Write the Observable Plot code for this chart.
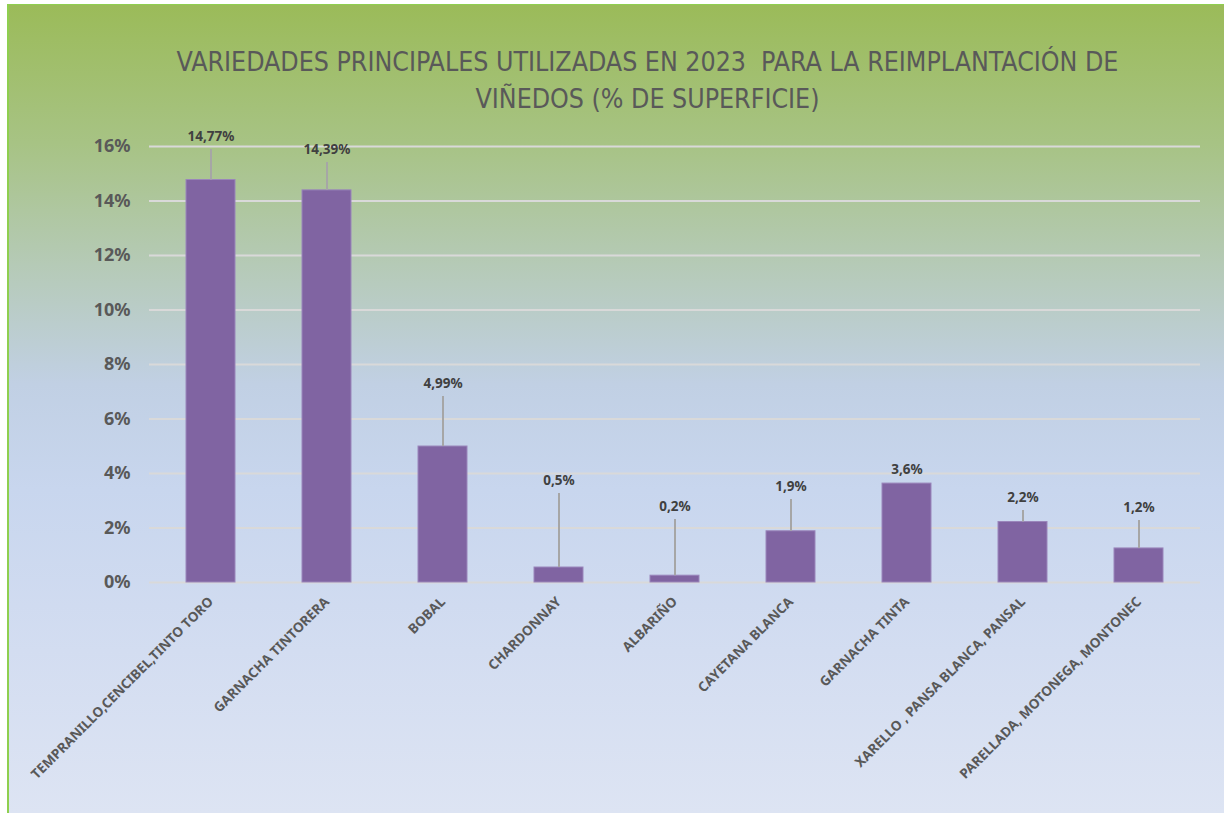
<!DOCTYPE html>
<html>
<head>
<meta charset="utf-8">
<script src="https://cdn.jsdelivr.net/npm/d3@7"></script>
<script src="https://cdn.jsdelivr.net/npm/@observablehq/plot@0.6"></script>
<style>
  html, body { margin: 0; padding: 0; background: #ffffff; }
  #page { width: 1224px; height: 813px; padding: 4px 0 0 7px; box-sizing: border-box; overflow: hidden; }
  #box {
    width: 1217px; height: 809px; box-sizing: border-box;
    border-left: 2px solid #8fcf4f; border-top: 1px solid #8fcf4f;
    background: linear-gradient(to bottom, #9bbb59 0%, #a7c384 17%, #b5cab6 32%, #c1d0e4 47%, #c8d6ee 60%, #d3ddf1 80%, #dde4f3 100%);
  }
  #title {
    height: 115px; box-sizing: border-box; padding-top: 38px;
    font-family: "Liberation Sans Narrow", "DejaVu Sans Condensed", "Noto Sans", sans-serif;
    font-stretch: condensed;
    font-size: 26.5px; line-height: 37px; color: #595959; text-align: center;
    white-space: pre; padding-left: 62px;
  }
  #chart svg { display: block; }
</style>
</head>
<body>
<div id="page"><div id="box">
  <div id="title">VARIEDADES PRINCIPALES UTILIZADAS EN 2023  PARA LA REIMPLANTACIÓN DE
VIÑEDOS (% DE SUPERFICIE)</div>
  <div id="chart"></div>
</div></div>
<script>
const categories = [
  "TEMPRANILLO,CENCIBEL,TINTO TORO",
  "GARNACHA TINTORERA",
  "BOBAL",
  "CHARDONNAY",
  "ALBARIÑO",
  "CAYETANA BLANCA",
  "GARNACHA TINTA",
  "XARELLO , PANSA BLANCA, PANSAL",
  "PARELLADA, MOTONEGA, MONTONEC"
];
const values = [14.77, 14.39, 4.99, 0.55, 0.25, 1.88, 3.63, 2.22, 1.25];
const valueLabels = ["14,77%", "14,39%", "4,99%", "0,5%", "0,2%", "1,9%", "3,6%", "2,2%", "1,2%"];
// where each data label sits, in % units
const labelAt = [16.37, 15.89, 7.30, 3.74, 2.79, 3.52, 4.15, 3.12, 2.75];
const yTicks = [0, 2, 4, 6, 8, 10, 12, 14, 16];

const data = categories.map((c, i) => ({c, v: values[i], label: valueLabels[i], ly: labelAt[i]}));

const chart = Plot.plot({
  width: 1215,
  height: 693,
  marginLeft: 140,
  marginRight: 24,
  marginTop: 26,
  marginBottom: 231,
  style: {background: "transparent", fontFamily: "'Noto Sans', 'Open Sans', sans-serif", overflow: "visible"},
  x: {domain: categories, paddingInner: 0.58, paddingOuter: 0.29, label: null},
  y: {domain: [0, 16], label: null},
  marks: [
    Plot.gridY(yTicks, {stroke: "#d9d9d9", strokeOpacity: 1, strokeWidth: 2}),
    Plot.barY(data, {x: "c", y: "v", fill: "#8064a2", stroke: "#9a86bb", strokeWidth: 1}),
    Plot.ruleX(data.filter(d => d.ly - d.v > 0.7), {x: "c", y1: "ly", y2: "v", insetTop: 13, stroke: "#a6a6a6", strokeWidth: 2}),
    Plot.text(data, {x: "c", y: "ly", text: "label", fill: "#404040", fontSize: 13.5, fontWeight: "bold"}),
    Plot.axisY(yTicks, {tickSize: 0, tickPadding: 19, tickFormat: d => d + "%", fontSize: 18, fontWeight: "bold", fill: "#595959", label: null}),
    Plot.axisX({tickSize: 0, tickPadding: 17, tickRotate: -45, fontSize: 13.5, fontWeight: "bold", fill: "#595959", label: null})
  ]
});
document.getElementById("chart").appendChild(chart);
</script>
</body>
</html>
